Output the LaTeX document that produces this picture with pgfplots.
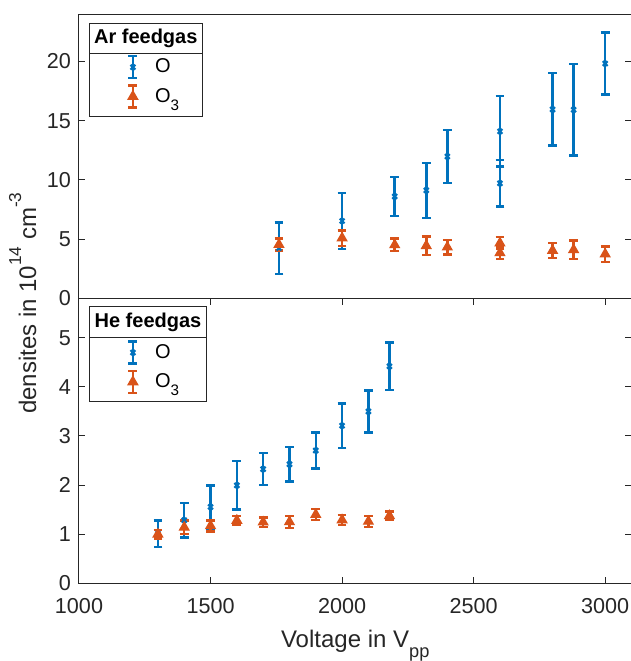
\documentclass[border=0pt]{standalone}
\usepackage{pgfplots}
\pgfplotsset{compat=1.18}
\usepackage{pgfplotstable}
\usepackage{graphicx}
\usepackage{fontspec}
\setmainfont{Liberation Sans}
\definecolor{mblue}{rgb}{0,0.447,0.741}
\definecolor{morange}{rgb}{0.85,0.325,0.098}
\definecolor{axgray}{rgb}{0.15,0.15,0.15}
\newcommand\msup[1]{\raisebox{0.62em}{\scalebox{0.72}{#1}}}
\newcommand\msub[1]{\raisebox{-0.42em}{\scalebox{0.76}{#1}}}

% Ar feedgas
\pgfplotstableread{
x y e
1760 4.25 2.17
2000 6.54 2.38
2200 8.61 1.66
2320 9.13 2.32
2400 11.98 2.25
2600 14.10 2.98
2600 9.72 1.97
2800 15.95 3.06
2880 15.92 3.85
3000 19.82 2.63
}\ArO
\pgfplotstableread{
x y e
1760 4.55 0.50
2000 5.10 0.65
2200 4.52 0.53
2320 4.45 0.78
2400 4.33 0.62
2600 4.67 0.50
2600 3.85 0.50
2800 4.05 0.62
2880 4.11 0.79
3000 3.75 0.65
}\ArOthree
% He feedgas
\pgfplotstableread{
x y e
1300 1.01 0.27
1400 1.285 0.355
1500 1.555 0.435
1600 1.995 0.495
1700 2.325 0.325
1800 2.425 0.355
1900 2.705 0.365
2000 3.21 0.45
2100 3.50 0.43
2180 4.42 0.48
}\HeO
\pgfplotstableread{
x y e
1300 1.00 0.09
1400 1.14 0.14
1500 1.17 0.11
1600 1.28 0.09
1700 1.245 0.095
1800 1.25 0.12
1900 1.40 0.11
2000 1.29 0.10
2100 1.26 0.11
2180 1.375 0.085
}\HeOthree

\pgfplotsset{
  myaxis/.style={
    width=276.25pt, scale only axis,
    xmin=1000, xmax=3100,
    axis line style={axgray, line width=0.5pt},
    tick style={axgray, line width=0.5pt},
    tick align=inside,
    major tick length=3pt,
    tick label style={font=\fontsize{10.8}{12}\selectfont, text=axgray},
    xticklabel style={yshift=-3.9pt},
    yticklabel style={xshift=-0.5pt},
    /pgf/number format/assume math mode=true,
    /pgf/number format/1000 sep={},
    every axis label/.append style={font=\fontsize{12}{14}\selectfont, text=axgray},
    legend cell align=left,
    legend style={draw=none, fill=none, inner sep=0pt, outer sep=0pt,
      row sep=2.5pt, column sep=8.3pt, nodes={inner sep=0pt},
      font=\fontsize{10}{12}\selectfont, text=black},
  },
  Oplot/.style={only marks, mark=x, mark size=1.7pt, color=mblue,
    mark options={line width=1.1pt, mblue},
    error bars/.cd, y dir=both, y explicit,
    error bar style={line width=1.25pt, mblue},
    error mark options={rotate=90, mark size=2.2pt, line width=1.25pt, mblue},
    /pgfplots/.cd},
  O3plot/.style={only marks, mark=triangle*, mark size=2.7pt, color=morange,
    mark options={line width=0.6pt, draw=morange, fill=morange},
    error bars/.cd, y dir=both, y explicit,
    error bar style={line width=1.25pt, morange},
    error mark options={rotate=90, mark size=2.2pt, line width=1.25pt, morange},
    /pgfplots/.cd},
  Oleg/.style={legend image code/.code={
    \draw[mblue, line width=1.2pt] (0pt,-5.5pt) -- (0pt,5.5pt)
      (-2.2pt,-5.5pt) -- (2.2pt,-5.5pt) (-2.2pt,5.5pt) -- (2.2pt,5.5pt);
    \draw[mblue] plot[mark=x, mark size=1.7pt, mark options={line width=1.1pt}] coordinates {(0pt,0pt)};}},
  O3leg/.style={legend image code/.code={
    \draw[morange, line width=1.2pt] (0pt,-5.5pt) -- (0pt,5.5pt)
      (-2.2pt,-5.5pt) -- (2.2pt,-5.5pt) (-2.2pt,5.5pt) -- (2.2pt,5.5pt);
    \draw[morange] plot[mark=triangle*, mark size=2.8pt, mark options={line width=0.6pt, fill=morange}] coordinates {(0pt,0pt)};}},
}

\begin{document}
\begin{tikzpicture}
% bottom panel: He feedgas
\begin{axis}[myaxis,
  name=bot, at={(0pt,0pt)}, anchor=south west,
  height=142.4pt,
  ymin=0, ymax=5.8, ytick={0,1,2,3,4,5},
  xtick={1000,1500,2000,2500,3000},
  xlabel={Voltage in V\msub{pp}},
  xlabel style={at={(axis description cs:0.5,-0.2237)}, anchor=base},
  ylabel={densites in 10\msup{14} cm\msup{-3}},
  ylabel style={at={(axis description cs:-0.0778,0.984)}, anchor=base},
  legend style={at={(axis description cs:0.0874,0.853)}, anchor=north west},
]
\addplot+[Oleg, Oplot] table[x=x, y=y, y error=e] {\HeO};
\addlegendentry{O}
\addplot+[O3leg, O3plot] table[x=x, y=y, y error=e] {\HeOthree};
\addlegendentry{O\msub{3}}
\draw[axgray, line width=0.5pt] (axis description cs:0.0186,0.640) rectangle (axis description cs:0.2311,0.971);
\draw[axgray, line width=0.5pt] (axis description cs:0.0186,0.862) -- (axis description cs:0.2311,0.862);
\node[font=\fontsize{10}{12}\selectfont\bfseries, text=black] at (axis description cs:0.1249,0.917) {He feedgas};
\end{axis}
% top panel: Ar feedgas
\begin{axis}[myaxis,
  name=top, at={(0pt,142.4pt)}, anchor=south west,
  height=142.25pt,
  ymin=0, ymax=24, ytick={0,5,10,15,20},
  xtick=\empty,
  legend style={at={(axis description cs:0.0874,0.856)}, anchor=north west},
]
\addplot+[Oleg, Oplot] table[x=x, y=y, y error=e] {\ArO};
\addlegendentry{O}
\addplot+[O3leg, O3plot] table[x=x, y=y, y error=e] {\ArOthree};
\addlegendentry{O\msub{3}}
\draw[axgray, line width=0.5pt] (axis description cs:0.0186,0.639) rectangle (axis description cs:0.2232,0.965);
\draw[axgray, line width=0.5pt] (axis description cs:0.0186,0.862) -- (axis description cs:0.2232,0.862);
\node[font=\fontsize{10}{12}\selectfont\bfseries, text=black] at (axis description cs:0.1209,0.913) {Ar feedgas};
\end{axis}
\pgfresetboundingbox
\path[use as bounding box] (-39.5pt,-38.85pt) rectangle (276pt,291.65pt);
\end{tikzpicture}
\end{document}
